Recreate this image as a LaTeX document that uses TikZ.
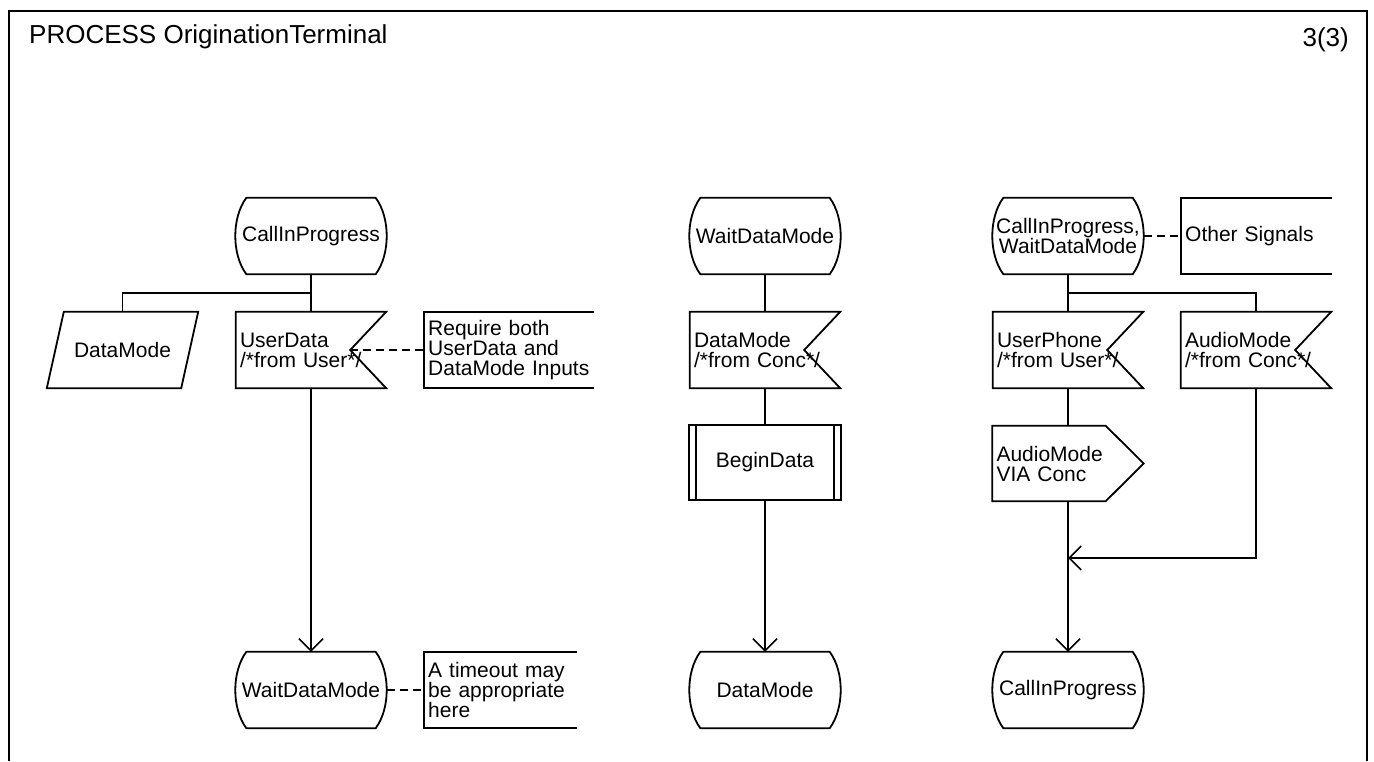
\documentclass[tikz,border=0pt]{standalone}
\usepackage{fontspec}
\setmainfont{Liberation Sans}
\usetikzlibrary{arrows.meta}

\tikzset{
  outline/.style={line width=1.8pt,line join=miter},
  flow/.style={line width=1.6pt},
  joint/.style={line width=2.8pt},
  link/.style={line width=1.6pt,dash pattern=on 8pt off 5pt},
  sdl/.style={inner sep=0pt,font=\fontsize{21}{20}\selectfont},
  % state: flat top and bottom, bulging sides
  sdlstate/.style={sdl,minimum width=151pt,minimum height=76pt,align=center,
    append after command={\pgfextra{\draw[outline]
      ([xshift=11pt]\tikzlastnode.north west) -- ([xshift=-11pt]\tikzlastnode.north east)
      .. controls ([xshift=3.7pt,yshift=-20pt]\tikzlastnode.north east) and ([xshift=3.7pt,yshift=20pt]\tikzlastnode.south east) .. ([xshift=-11pt]\tikzlastnode.south east)
      -- ([xshift=11pt]\tikzlastnode.south west)
      .. controls ([xshift=-3.7pt,yshift=20pt]\tikzlastnode.south west) and ([xshift=-3.7pt,yshift=-20pt]\tikzlastnode.north west) .. cycle;}}},
  % signal input: notch on the right
  sdlinput/.style={sdl,text width=142pt,inner xsep=4pt,minimum height=76pt,align=left,
    append after command={\pgfextra{\draw[outline]
      (\tikzlastnode.north west) -- (\tikzlastnode.north east)
      -- ([xshift=-36pt]\tikzlastnode.east) -- (\tikzlastnode.south east)
      -- (\tikzlastnode.south west) -- cycle;}}},
  % signal output: point on the right
  sdloutput/.style={sdl,text width=143pt,inner xsep=4pt,minimum height=75pt,align=left,
    append after command={\pgfextra{\draw[outline]
      (\tikzlastnode.north west) -- ([xshift=-38pt]\tikzlastnode.north east)
      -- (\tikzlastnode.east) -- ([xshift=-38pt]\tikzlastnode.south east)
      -- (\tikzlastnode.south west) -- cycle;}}},
  sdlproc/.style={sdl,draw,outline,minimum width=152pt,minimum height=75pt,
    append after command={\pgfextra{\draw[outline]
      ([xshift=8pt]\tikzlastnode.north west) -- ([xshift=8pt]\tikzlastnode.south west)
      ([xshift=-8pt]\tikzlastnode.north east) -- ([xshift=-8pt]\tikzlastnode.south east);}}},
  sdlsave/.style={sdl,minimum width=151pt,minimum height=76pt,
    append after command={\pgfextra{\draw[outline]
      ([xshift=17pt]\tikzlastnode.north west) -- (\tikzlastnode.north east)
      -- ([xshift=-17pt]\tikzlastnode.south east) -- (\tikzlastnode.south west) -- cycle;}}},
  % comment bracket, open on the right
  sdlnote/.style={sdl,inner xsep=4pt,minimum height=76pt,align=left,anchor=west,
    append after command={\pgfextra{\draw[outline]
      (\tikzlastnode.north east) -- (\tikzlastnode.north west)
      -- (\tikzlastnode.south west) -- (\tikzlastnode.south east);}}},
}

\begin{document}
\begin{tikzpicture}[x=1pt,y=-1pt,>={Straight Barb[length=12pt,width=24pt]}]
\useasboundingbox (0,0) rectangle (1374,761);
% frame and heading
\draw[line width=2.2pt] (9,761) -- (9,11) -- (1367,11) -- (1367,761);
\node[anchor=base west,inner sep=0pt,font=\fontsize{26}{30}\selectfont] (title) at (29,43) {PROCESS OriginationTerminal};
\node[anchor=base east,inner sep=0pt,font=\fontsize{26}{30}\selectfont] (page) at (1349,46) {3(3)};

% CallInProgress
\node[sdlstate] (cip1) at (311,236) {CallInProgress};
\node[sdlsave] (save1) at (122.5,350) {DataMode};
\node[sdlinput] (ud1) at (311,350) {UserData\\/*from User*/};
\node[sdlnote,text width=162pt] (req1) at (424,350) {Require both\\UserData and\\DataMode Inputs};
\node[sdlstate] (wdm1) at (311,690) {WaitDataMode};
\node[sdlnote,text width=145pt] (tmo1) at (424,690) {A timeout may\\be appropriate\\here};
\coordinate (b1) at (311,293);
\draw[joint] (cip1.south) -- (b1);
\draw[flow] (b1) -| (save1.north);
\draw[flow] (b1) -- (ud1.north);
\draw[link] ([xshift=-36pt]ud1.east) -- (req1.west);
\draw[flow,->] (ud1.south) -- (wdm1.north);
\draw[link] (wdm1.east) -- (tmo1.west);

% WaitDataMode
\node[sdlstate] (wdm2) at (765,236) {WaitDataMode};
\node[sdlinput] (dm2) at (765,350) {DataMode\\/*from Conc*/};
\node[sdlproc] (bd2) at (765,462.5) {BeginData};
\node[sdlstate] (dmo2) at (765,690) {DataMode};
\draw[flow] (wdm2.south) -- (dm2.north);
\draw[flow] (dm2.south) -- (bd2.north);
\draw[flow,->] (bd2.south) -- (dmo2.north);

% CallInProgress, WaitDataMode
\node[sdlstate] (cw3) at (1068,236) {CallInProgress,\\WaitDataMode};
\node[sdlnote,text width=143pt] (oth3) at (1181,236) {Other Signals};
\node[sdlinput] (up3) at (1068,350) {UserPhone\\/*from User*/};
\node[sdlinput] (am3) at (1256,350) {AudioMode\\/*from Conc*/};
\node[sdloutput] (via3) at (1068,463.5) {AudioMode\\VIA Conc};
\node[sdlstate] (cip3) at (1068,690) {CallInProgress};
\coordinate (b3) at (1068,293);
\coordinate (m3) at (1068,558);
\draw[link] (cw3.east) -- (oth3.west);
\draw[joint] (cw3.south) -- (b3);
\draw[flow] (b3) -- (up3.north);
\draw[flow] (b3) -| (am3.north);
\draw[flow] (up3.south) -- (via3.north);
\draw[flow] (via3.south) -- (m3);
\draw[joint] (m3) -- ([yshift=4pt]cip3.north);
\draw[flow,->] (m3) -- (cip3.north);
\draw[flow,->] (am3.south) |- (m3);
\end{tikzpicture}
\end{document}
